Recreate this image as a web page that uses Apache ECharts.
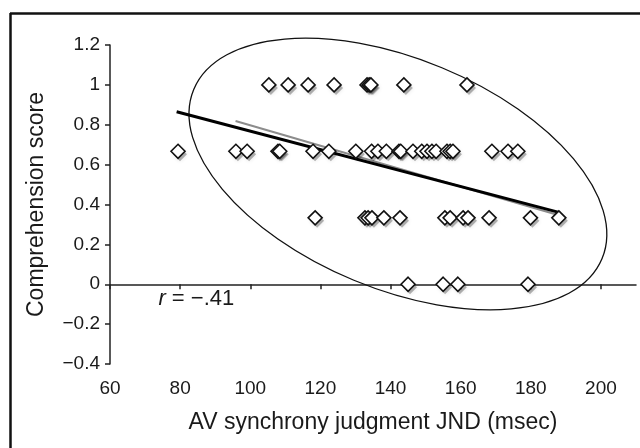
<!DOCTYPE html>
<html>
<head>
<meta charset="utf-8">
<script src="https://cdn.jsdelivr.net/npm/echarts@6/dist/echarts.min.js"></script>
<style>
  html, body { margin: 0; padding: 0; background: #fff; }
  #chart { width: 640px; height: 448px; }
</style>
</head>
<body>
<div id="chart"></div>
<script>
// JND (msec) and comprehension score for each subject
var jndValues = [
    105.3, 110.8, 116.5, 123.9, 133.3, 133.9, 134.4, 143.8, 161.8,
    79.4, 95.9, 99.1, 107.9, 108.4, 117.9, 122.4, 130.1, 134.6, 136.4, 138.8,
    142.4, 142.9, 146.4, 148.9, 150.4, 151.8, 153.0, 156.1, 157.0, 157.8,
    168.9, 173.5, 176.3,
    118.5, 132.7, 133.6, 134.7, 138.1, 142.7, 155.5, 157.0, 160.7, 162.1,
    168.1, 179.9, 188.0,
    145.0, 155.0, 159.2, 179.2
];
var scoreValues = [
    1, 1, 1, 1, 1, 1, 1, 1, 1,
    0.667, 0.667, 0.667, 0.667, 0.667, 0.667, 0.667, 0.667, 0.667, 0.667, 0.667,
    0.667, 0.667, 0.667, 0.667, 0.667, 0.667, 0.667, 0.667, 0.667, 0.667,
    0.667, 0.667, 0.667,
    0.333, 0.333, 0.333, 0.333, 0.333, 0.333, 0.333, 0.333, 0.333, 0.333,
    0.333, 0.333, 0.333,
    0, 0, 0, 0
];

// fit lines (end points)
var blackFitX = [79, 188.3];
var blackFitY = [0.865, 0.359];
var grayFitX = [95.8, 187.8];
var grayFitY = [0.819, 0.347];

var xTicks = [60, 80, 100, 120, 140, 160, 180, 200];

var ellipseCenter = [142.1, 0.553];
var rText = '−.41';

function pairs(xs, ys) {
    var out = [];
    xs.forEach(function (x, i) {
        out.push([x, ys[i]]);
    });
    return out;
}

var myChart = echarts.init(document.getElementById('chart'));

var labelFont = 'Liberation Sans, Arial, sans-serif';
var points = pairs(jndValues, scoreValues);

var option = {
    animation: false,
    grid: { left: 110, top: 45, right: 4, bottom: 84, containLabel: false },
    xAxis: {
        type: 'value',
        min: 60,
        max: 210,
        interval: 20,
        name: 'AV synchrony judgment JND (msec)',
        nameLocation: 'middle',
        nameGap: 47,
        nameTextStyle: { fontSize: 23, color: '#1a1a1a', fontFamily: labelFont },
        axisLine: { lineStyle: { color: '#222', width: 1.5 } },
        axisTick: { inside: false, length: 5, customValues: xTicks, lineStyle: { color: '#222', width: 1.5 } },
        axisLabel: { customValues: xTicks, fontSize: 19, margin: 15, color: '#1a1a1a', fontFamily: labelFont },
        splitLine: { show: false }
    },
    yAxis: {
        type: 'value',
        min: -0.4,
        max: 1.2,
        interval: 0.2,
        name: 'Comprehension score',
        nameLocation: 'middle',
        nameGap: 62,
        nameTextStyle: { fontSize: 23, color: '#1a1a1a', fontFamily: labelFont },
        axisLine: { show: true, lineStyle: { color: '#222', width: 1.5 } },
        axisTick: { show: true, length: 5, lineStyle: { color: '#222', width: 1.5 } },
        axisLabel: {
            fontSize: 19, margin: 10, color: '#1a1a1a', fontFamily: labelFont,
            formatter: function (v) {
                var r = Math.round(v * 10) / 10;
                return r < 0 ? '−' + Math.abs(r) : String(r);
            }
        },
        splitLine: { show: false }
    },
    series: [
        {
            type: 'line',
            data: pairs(grayFitX, grayFitY),
            symbol: 'none',
            lineStyle: { color: '#8c8c8c', width: 2 },
            z: 3
        },
        {
            type: 'line',
            data: pairs(blackFitX, blackFitY),
            symbol: 'none',
            lineStyle: { color: '#000', width: 3 },
            z: 4
        },
        {
            // drop shadow under each diamond
            type: 'scatter',
            data: points,
            symbol: 'diamond',
            symbolSize: [14, 14],
            symbolOffset: [2, 3],
            silent: true,
            itemStyle: {
                color: 'rgba(0,0,0,0.28)',
                opacity: 1,
                shadowBlur: 4,
                shadowColor: 'rgba(0,0,0,0.4)'
            },
            z: 5
        },
        {
            type: 'scatter',
            data: points,
            symbol: 'diamond',
            symbolSize: [14, 14],
            itemStyle: {
                color: '#fff',
                opacity: 1,
                borderColor: '#111',
                borderWidth: 1.6
            },
            z: 6
        }
    ]
};

myChart.setOption(option);

// ellipse and r label placed through the axes
var c = myChart.convertToPixel({ gridIndex: 0 }, ellipseCenter);
var rPos = myChart.convertToPixel({ gridIndex: 0 }, [73.8, -0.075]);

myChart.setOption({
    graphic: [
        {
            type: 'line',
            shape: { x1: 10.5, y1: 13, x2: 10.5, y2: 448 },
            style: { stroke: '#111', lineWidth: 2.5 }
        },
        {
            type: 'line',
            shape: { x1: 10, y1: 13.5, x2: 640, y2: 13.5 },
            style: { stroke: '#111', lineWidth: 2.5 }
        },
        {
            type: 'ellipse',
            x: c[0],
            y: c[1],
            rotation: -22.5 * Math.PI / 180,
            shape: { cx: 0, cy: 0, rx: 221, ry: 115 },
            style: { fill: 'none', stroke: '#111', lineWidth: 1.3 },
            z: 2
        },
        {
            type: 'text',
            x: rPos[0],
            y: rPos[1],
            style: {
                text: '{i|r} = ' + rText,
                verticalAlign: 'middle',
                fontSize: 22,
                fontFamily: labelFont,
                fill: '#1a1a1a',
                rich: {
                    i: { fontStyle: 'italic', fontSize: 22, fontFamily: labelFont, fill: '#1a1a1a' }
                }
            }
        }
    ]
});
</script>
</body>
</html>
